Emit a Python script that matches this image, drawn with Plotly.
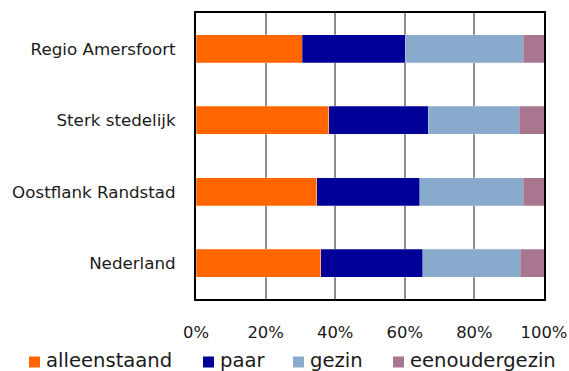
import plotly.graph_objects as go

# Huishoudsamenstelling per regio (aandeel van alle huishoudens)
regions = ["Regio Amersfoort", "Sterk stedelijk", "Oostflank Randstad", "Nederland"]
series_names = ["alleenstaand", "paar", "gezin", "eenoudergezin"]
alleenstaand = [30.5, 38.1, 34.7, 35.8]
paar = [29.6, 28.6, 29.6, 29.4]
gezin = [34.0, 26.2, 29.8, 28.0]
eenoudergezin = [5.9, 7.1, 5.9, 6.8]
x_ticks = [0, 20, 40, 60, 80, 100]
x_tick_labels = ["0%", "20%", "40%", "60%", "80%", "100%"]

colors = ["#FF6600", "#000099", "#88AACC", "#A8778F"]
values = [alleenstaand, paar, gezin, eenoudergezin]

W, H = 569, 371
L, R, T, B = 196, 25, 13, 72
plot_h = H - T - B
plot_w = W - L - R
FONT = "DejaVu Sans"
TEXT = "#1a1a1a"

fig = go.Figure()
for name, vals, col in zip(series_names, values, colors):
    fig.add_trace(go.Bar(
        y=regions, x=vals, name=name, orientation="h",
        marker=dict(color=col, line=dict(color="rgba(255,255,255,0.5)", width=0.5)),
        showlegend=False,
    ))

# Legend drawn below the plot: square swatch + label per series
legend_sq_x = [29, 203, 293, 393]
legend_sq_top, legend_sq_size = 356.5, 11
legend_text_py = 361
def px_to_paper_x(px):
    return (px - L) / plot_w
def px_to_paper_y(py):
    return (H - B - py) / plot_h

shapes = []
annotations = []
for name, col, sx in zip(series_names, colors, legend_sq_x):
    shapes.append(dict(
        type="rect", xref="paper", yref="paper",
        x0=px_to_paper_x(sx), x1=px_to_paper_x(sx + legend_sq_size),
        y0=px_to_paper_y(legend_sq_top + legend_sq_size), y1=px_to_paper_y(legend_sq_top),
        fillcolor=col, line=dict(width=0),
    ))
    annotations.append(dict(
        text=name, xref="paper", yref="paper",
        x=px_to_paper_x(sx + 15), y=px_to_paper_y(legend_text_py),
        xanchor="left", yanchor="middle", showarrow=False,
        font=dict(family=FONT, size=19.6, color=TEXT),
    ))

fig.update_layout(
    width=W, height=H, autosize=False,
    margin=dict(l=L, r=R, t=T, b=B, pad=0),
    paper_bgcolor="white", plot_bgcolor="white",
    barmode="stack", bargap=0.605,
    shapes=shapes, annotations=annotations,
    font=dict(family=FONT, color=TEXT),
)
fig.update_xaxes(
    range=[0, 100], tickvals=x_ticks, ticktext=x_tick_labels,
    showgrid=True, gridcolor="#8c8c8c", gridwidth=1.5,
    showline=True, linecolor="black", linewidth=2, mirror=True,
    ticks="outside", ticklen=0, ticklabelstandoff=17,
    tickfont=dict(family=FONT, size=16.4, color=TEXT),
    zeroline=False, fixedrange=True, automargin=False,
)
fig.update_yaxes(
    categoryorder="array", categoryarray=regions, autorange="reversed",
    showline=True, linecolor="black", linewidth=2, mirror=True,
    ticks="outside", ticklen=0, ticklabelstandoff=15,
    tickfont=dict(family=FONT, size=16.7, color=TEXT),
    showgrid=False, fixedrange=True, automargin=False,
)

fig.write_html("out.html", config={"displayModeBar": False, "responsive": False})
